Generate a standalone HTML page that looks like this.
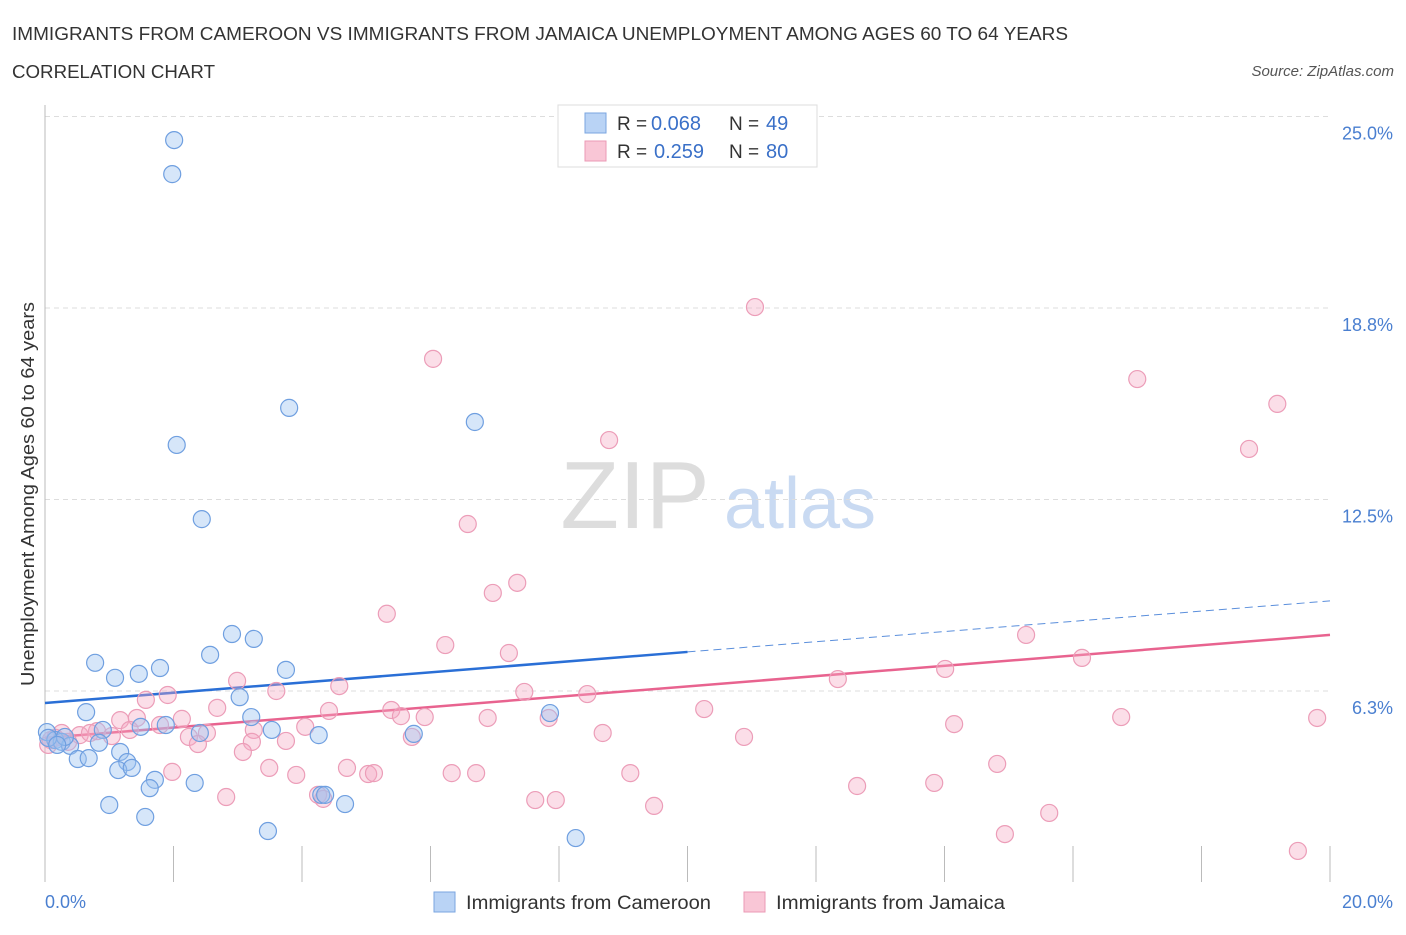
<!DOCTYPE html>
<html><head><meta charset="utf-8"><style>
body{margin:0;background:#fff;font-family:"Liberation Sans",sans-serif}
svg text{font-family:"Liberation Sans",sans-serif}
</style></head><body>
<svg id="chart" width="1406" height="930" xmlns="http://www.w3.org/2000/svg">
<text x="12" y="40" font-size="18" fill="#333" textLength="1056" lengthAdjust="spacingAndGlyphs">IMMIGRANTS FROM CAMEROON VS IMMIGRANTS FROM JAMAICA UNEMPLOYMENT AMONG AGES 60 TO 64 YEARS</text>
<text x="12" y="78" font-size="18" fill="#333" textLength="203" lengthAdjust="spacingAndGlyphs">CORRELATION CHART</text>
<text x="1394" y="76" font-size="15" fill="#555" font-style="italic" text-anchor="end">Source: ZipAtlas.com</text>
<text x="635" y="528" font-size="96" fill="#ddd" font-family="Liberation Serif" text-anchor="middle">ZIP</text>
<text x="800" y="528" font-size="72" fill="#c9daf2" text-anchor="middle">atlas</text>
<text transform="translate(34,494) rotate(-90)" font-size="18" fill="#333" text-anchor="middle" textLength="384" lengthAdjust="spacingAndGlyphs">Unemployment Among Ages 60 to 64 years</text>
<g id="grid"></g><g id="axes"></g><g id="lines"></g><g id="pts"></g>
<g>
<rect x="558" y="105" width="259" height="62" fill="#fff" stroke="#ddd"/>
<rect x="585" y="113" width="21" height="20" fill="#b9d3f5" stroke="#7aa6e0"/>
<rect x="585" y="141" width="21" height="20" fill="#f9c6d6" stroke="#eb9ab5"/>
<text x="617" y="130" font-size="19" fill="#333">R =</text>
<text x="651" y="130" font-size="20" fill="#3a70c8">0.068</text>
<text x="729" y="130" font-size="19" fill="#333">N =</text>
<text x="766" y="130" font-size="20" fill="#3a70c8">49</text>
<text x="617" y="158" font-size="19" fill="#333">R =</text>
<text x="654" y="158" font-size="20" fill="#3a70c8">0.259</text>
<text x="729" y="158" font-size="19" fill="#333">N =</text>
<text x="766" y="158" font-size="20" fill="#3a70c8">80</text>
</g>
<g>
<rect x="434" y="892" width="21" height="20" fill="#b9d3f5" stroke="#7aa6e0"/>
<text x="466" y="909" font-size="19" fill="#333" textLength="245" lengthAdjust="spacingAndGlyphs">Immigrants from Cameroon</text>
<rect x="744" y="892" width="21" height="20" fill="#f9c6d6" stroke="#eb9ab5"/>
<text x="776" y="909" font-size="19" fill="#333" textLength="229" lengthAdjust="spacingAndGlyphs">Immigrants from Jamaica</text>
</g>
</svg>
<script>
const yTicks=[6.25,12.5,18.75,25];
const yTickLabels=["6.3%","12.5%","18.8%","25.0%"];
const xTicks=[0,2,4,6,8,10,12,14,16,18,20];
const blueX=[2.01,1.98,3.80,2.05,6.69,2.44,2.91,3.25,0.78,1.79,3.75,1.46,1.09,2.57,3.03,0.64,7.86,3.21,1.49,1.88,0.90,3.53,2.41,4.26,5.74,0.03,0.16,0.26,0.39,0.84,1.17,1.28,1.71,0.51,0.68,1.14,1.35,1.63,2.33,1.0,1.56,3.47,4.30,4.36,4.67,8.26,0.05,0.31,0.19];
const blueY=[24.23,23.12,15.49,14.28,15.03,11.86,8.11,7.95,7.17,7.0,6.94,6.81,6.68,7.43,6.05,5.56,5.53,5.40,5.08,5.14,4.98,4.98,4.88,4.81,4.85,4.91,4.65,4.59,4.46,4.56,4.26,3.93,3.35,4.03,4.06,3.67,3.74,3.08,3.25,2.53,2.14,1.68,2.86,2.86,2.56,1.45,4.72,4.75,4.49];
const pinkX=[11.05,6.04,17.0,19.18,8.78,18.74,6.58,7.35,6.97,5.32,15.27,6.23,7.22,16.14,2.99,14.01,12.34,4.58,7.46,8.44,3.60,1.91,1.57,2.68,4.42,5.39,10.26,5.91,5.54,6.89,7.84,16.75,19.80,14.15,2.13,1.17,1.43,4.05,3.25,2.52,2.24,5.71,8.68,10.88,0.81,1.32,1.04,2.38,3.75,3.22,0.26,0.54,0.09,0.05,3.08,1.98,3.49,3.91,4.70,5.03,5.12,6.33,6.71,9.11,14.82,2.82,4.25,4.33,7.63,7.95,9.48,12.64,13.84,15.63,14.94,19.50,0.70,1.79,0.36,0.16];
const pinkY=[18.78,17.09,16.43,15.62,14.44,14.15,11.70,9.78,9.45,8.77,8.08,7.75,7.49,7.33,6.58,6.97,6.64,6.41,6.22,6.15,6.25,6.12,5.96,5.70,5.60,5.63,5.66,5.40,5.43,5.37,5.37,5.40,5.37,5.17,5.34,5.30,5.37,5.08,4.98,4.88,4.75,4.75,4.88,4.75,4.94,4.98,4.78,4.52,4.62,4.59,4.88,4.81,4.65,4.49,4.26,3.61,3.74,3.51,3.74,3.54,3.57,3.57,3.57,3.57,3.87,2.79,2.86,2.73,2.69,2.69,2.50,3.15,3.25,2.27,1.58,1.03,4.88,5.14,4.59,4.72];
const blueTrend=[5.86,9.19];
const pinkTrend=[4.72,8.08];
const blueSolidEnd=10;
const NS="http://www.w3.org/2000/svg";
const X=v=>45+v/20*1285, Y=v=>882.5-v/25*766;
function mk(p,t,a){const e=document.createElementNS(NS,t);for(const k in a)e.setAttribute(k,a[k]);document.getElementById(p).appendChild(e);return e;}
yTicks.forEach((t,i)=>{
 const g=mk('grid','line',{x1:45,x2:1330,y1:Y(t),y2:Y(t),stroke:'#ddd','stroke-dasharray':'5,4'});
 
 
 const l=mk('grid','text',{x:1393,y:Y(t)+23,'font-size':18,fill:'#4a7fd0','text-anchor':'end'});
 l.textContent=yTickLabels[i];
 
 
});
const ax=mk('axes','line',{x1:45,x2:45,y1:105,y2:882,stroke:'#aaa'});


xTicks.forEach(t=>{
 const k=mk('axes','line',{x1:X(t),x2:X(t),y1:t==0?105:846,y2:882,stroke:'#bbb'});
 
 
});
const x0=mk('axes','text',{x:45,y:908,'font-size':18,fill:'#4a7fd0'});x0.textContent='0.0%';


const x1=mk('axes','text',{x:1393,y:908,'font-size':18,fill:'#4a7fd0','text-anchor':'end'});x1.textContent='20.0%';


const bAt=v=>blueTrend[0]+(blueTrend[1]-blueTrend[0])*v/20;
let e=mk('lines','line',{x1:X(0),y1:Y(bAt(0)),x2:X(blueSolidEnd),y2:Y(bAt(blueSolidEnd)),stroke:'#2a6fd6','stroke-width':2.5});


e=mk('lines','line',{x1:X(blueSolidEnd),y1:Y(bAt(blueSolidEnd)),x2:X(20),y2:Y(bAt(20)),stroke:'#5b8fdc','stroke-width':1,'stroke-dasharray':'8,5'});


e=mk('lines','line',{x1:X(0),y1:Y(pinkTrend[0]),x2:X(20),y2:Y(pinkTrend[1]),stroke:'#e8638f','stroke-width':2.5});


pinkX.forEach((v,i)=>{
 const c=mk('pts','circle',{cx:X(v),cy:Y(pinkY[i]),r:8.5,fill:'rgba(245,168,194,0.38)',stroke:'#ec9db8','stroke-width':1.2});
 
 
});
blueX.forEach((v,i)=>{
 const c=mk('pts','circle',{cx:X(v),cy:Y(blueY[i]),r:8.5,fill:'rgba(158,195,240,0.42)',stroke:'#6f9fe0','stroke-width':1.2});
 
 
});
</script>
</body></html>
